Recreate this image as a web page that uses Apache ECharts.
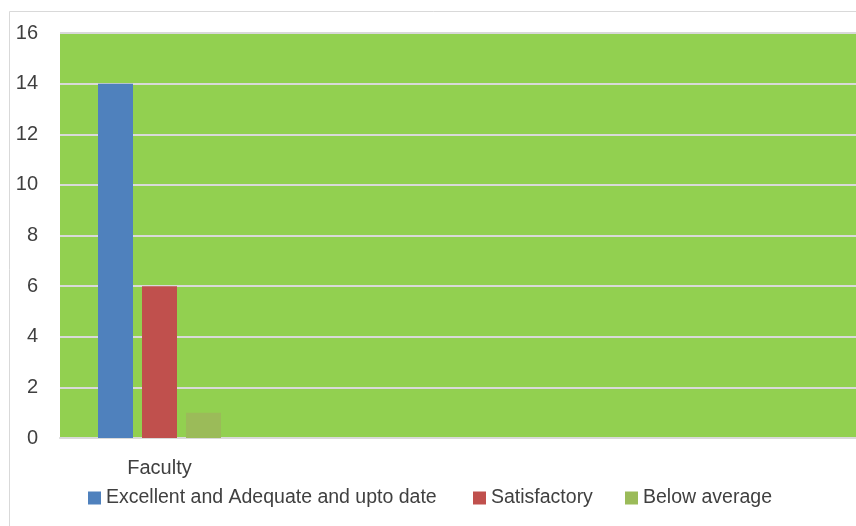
<!DOCTYPE html>
<html><head><meta charset="utf-8">
<script src="https://cdn.jsdelivr.net/npm/echarts@6/dist/echarts.min.js"></script>
<style>html,body{margin:0;padding:0;background:#fff}#c{width:856px;height:526px}</style>
</head><body><div id="c"></div>
<script>
const categories = ['Faculty', '', '', ''];
const seriesNames = ['Excellent and Adequate and upto date', 'Satisfactory', 'Below average'];
const excellent = [14, null, null, null];
const satisfactory = [6, null, null, null];
const belowAverage = [1, null, null, null];
const yTicks = { min: 0, max: 16, interval: 2 };
const colors = ['#4f81bd', '#c0504d', '#9bbb59'];

const font = 'Liberation Sans';
const chart = echarts.init(document.getElementById('c'), null, { renderer: 'canvas' });
const legendLefts = [83, 468, 620];
chart.setOption({
  animation: false,
  textStyle: { fontFamily: font },
  graphic: [{ type: 'rect', shape: { x: 9.5, y: 11.5, width: 1000, height: 1000 }, style: { fill: 'none', stroke: '#d9d9d9', lineWidth: 1 }, z: -10 }],
  grid: { left: 60, right: 0, top: 33, bottom: 88, show: true, backgroundColor: '#92d050', borderWidth: 0 },
  legend: seriesNames.map((n, i) => ({
    data: [n], left: legendLefts[i], top: 483, itemWidth: 13, itemHeight: 13,
    textStyle: { fontFamily: font, fontSize: 19.5, color: '#404040' }, icon: 'rect'
  })),
  xAxis: {
    type: 'category', data: categories,
    axisLine: { lineStyle: { color: '#d9d9d9', width: 2 } },
    axisTick: { show: false },
    axisLabel: { fontFamily: font, fontSize: 20, color: '#404040', margin: 20, interval: 0 }
  },
  yAxis: {
    type: 'value', min: yTicks.min, max: yTicks.max, interval: yTicks.interval,
    axisLine: { show: false }, axisTick: { show: false },
    axisLabel: { fontFamily: font, fontSize: 20, color: '#404040', margin: 22 },
    splitLine: { lineStyle: { color: '#d9d9d9', width: 2 } }
  },
  series: [excellent, satisfactory, belowAverage].map((d, i) => ({
    name: seriesNames[i], type: 'bar', data: d, barWidth: 35, barGap: '25.7%',
    itemStyle: { color: colors[i] }
  }))
});
</script></body></html>
